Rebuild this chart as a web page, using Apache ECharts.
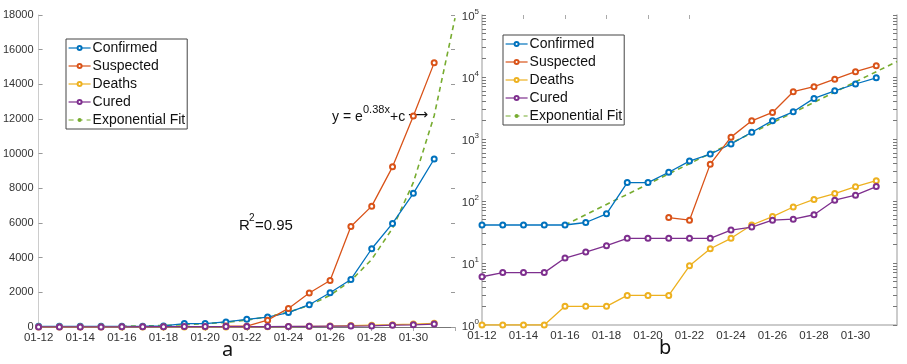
<!DOCTYPE html>
<html>
<head>
<meta charset="utf-8">
<script src="https://cdn.jsdelivr.net/npm/echarts@6/dist/echarts.min.js"></script>
<style>
  html, body { margin: 0; padding: 0; background: #fff; }
  #chart { width: 907px; height: 364px; }
</style>
</head>
<body>
<div id="chart"></div>
<script>
// data (01-12 .. 02-01)
const days = ['01-12','01-13','01-14','01-15','01-16','01-17','01-18','01-19','01-20','01-21',
  '01-22','01-23','01-24','01-25','01-26','01-27','01-28','01-29','01-30','01-31','02-01']
const confirmed = [41,41,41,41,41,45,62,198,198,291,440,571,830,1287,1975,2744,4515,5974,7711,9692]
const suspected = [null,null,null,null,null,null,null,null,null,54,49,393,1072,1965,2684,5794,6973,9239,12167,15238]
const deaths = [1,1,1,1,2,2,2,3,3,3,9,17,25,41,56,80,106,132,170,213]
const cured = [6,7,7,7,12,15,19,25,25,25,25,25,34,38,49,51,60,103,124,171]
const expFit = [null,null,null,null,41,60,88,128,187,274,400,585,855,1250,1827,2670,3900,5700,8340,12190,17820]
const logLabels = [1,10,100,1000,10000,100000]
const logTicks = [1,2,3,4,5,6,7,8,9,10,20,30,40,50,60,70,80,90,100,200,300,400,500,600,700,800,900,
  1000,2000,3000,4000,5000,6000,7000,8000,9000,10000,20000,30000,40000,50000,60000,70000,80000,90000,100000]

const names = ['Confirmed','Suspected','Deaths','Cured','Exponential Fit']
const colors = ['#0072BD','#D95319','#EDB120','#7E2F8E','#77AC30']
const seriesData = [confirmed, suspected, deaths, cured, expFit]

const FONT = 'Liberation Sans, Arial, sans-serif'
const chart = echarts.init(document.getElementById('chart'), null, {renderer: 'canvas'})

function makeSeries(gi) {
  return seriesData.map((d, i) => {
    const fit = i === 4
    return {
      name: names[i],
      type: 'line',
      xAxisIndex: gi * 2,
      yAxisIndex: gi * 2,
      data: d,
      color: colors[i],
      symbol: fit ? 'none' : 'emptyCircle',
      symbolSize: 5,
      showSymbol: !fit,
      lineStyle: {width: fit ? 1.6 : 1.3, type: fit ? [5, 4] : 'solid'},
      itemStyle: {borderWidth: 1.3},
      z: fit ? 1 : 2,
      animation: false
    }
  })
}

const labelEvery2 = (i) => i % 2 === 0 && i < 20

function legendAt(left, top) {
  return {
    left: left, top: top,
    orient: 'vertical',
    data: names,
    itemWidth: 22, itemHeight: 5, itemGap: 4,
    borderColor: '#444', borderWidth: 1,
    padding: [2, 2, 2, 2],
    lineStyle: {width: 1.2},
    itemStyle: {borderWidth: 1},
    textStyle: {fontFamily: FONT, fontSize: 14, color: '#111', padding: [0, 0, 0, -3]},
    selectedMode: false
  }
}

function txt(left, top, text, size, font) {
  return {type: 'text', left: left, top: top, style: {text: text, fontFamily: font || FONT, fontSize: size, fill: '#111'}}
}

chart.setOption({
  animation: false,
  grid: [
    {left: 33, top: 15, width: 422, height: 312},
    {left: 482, top: 15, width: 415, height: 310}
  ],
  legend: [legendAt(66, 39), legendAt(503, 35)],
  xAxis: [
    {
      gridIndex: 0, type: 'category', data: days, boundaryGap: false,
      axisLine: {lineStyle: {color: '#bbb'}},
      axisTick: {show: false},
      axisLabel: {interval: labelEvery2, fontFamily: FONT, fontSize: 11.5, color: '#333', margin: 5}
    },
    {
      gridIndex: 0, type: 'category', data: days, boundaryGap: false, position: 'top',
      axisLine: {lineStyle: {color: '#777'}},
      axisTick: {inside: true, length: 4, interval: (i) => i % 2 === 0 && i > 0, lineStyle: {color: '#aaa'}},
      axisLabel: {show: false}
    },
    {
      gridIndex: 1, type: 'category', data: days, boundaryGap: false,
      axisLine: {lineStyle: {color: '#bbb', width: 1.5}},
      axisTick: {show: false},
      axisLabel: {interval: labelEvery2, fontFamily: FONT, fontSize: 11.5, color: '#333', margin: 5}
    },
    {
      gridIndex: 1, type: 'category', data: days, boundaryGap: false, position: 'top',
      axisLine: {show: false},
      axisTick: {inside: true, length: 4, interval: (i) => i % 2 === 0 && i > 0 && i <= 10, lineStyle: {color: '#aaa'}},
      axisLabel: {show: false}
    }
  ],
  yAxis: [
    {
      gridIndex: 0, type: 'value', min: 0, max: 18000, interval: 2000,
      splitLine: {show: false},
      axisLine: {show: true, lineStyle: {color: '#ccc'}},
      axisTick: {show: true, inside: true, length: 4, lineStyle: {color: '#999'}},
      axisLabel: {fontFamily: FONT, fontSize: 11, color: '#333', margin: 5, formatter: (v) => String(v)}
    },
    {
      gridIndex: 0, type: 'value', min: 0, max: 18000, interval: 2000, position: 'right',
      splitLine: {show: false},
      axisLine: {show: false},
      axisTick: {show: true, inside: true, length: 4, lineStyle: {color: '#999'}},
      axisLabel: {show: false}
    },
    {
      gridIndex: 1, type: 'log', logBase: 10, min: 1, max: 100000,
      splitLine: {show: false},
      axisLine: {show: true, lineStyle: {color: '#bbb', width: 1.5}},
      axisTick: {show: true, inside: true, length: 4, customValues: logTicks, lineStyle: {color: '#777'}},
      axisLabel: {
        customValues: logLabels, margin: 3,
        formatter: (v) => '{b|10}{e|' + Math.round(Math.log10(v)) + '}',
        rich: {
          b: {fontFamily: FONT, fontSize: 11.5, color: '#333', padding: [4, 0, 0, 0]},
          e: {fontFamily: FONT, fontSize: 8, color: '#333', padding: [0, 0, 6, 0]}
        }
      }
    },
    {
      gridIndex: 1, type: 'log', logBase: 10, min: 1, max: 100000, position: 'right',
      splitLine: {show: false},
      axisLine: {show: true, lineStyle: {color: '#bbb', width: 1.5}},
      axisTick: {show: true, inside: true, length: 4, customValues: logTicks, lineStyle: {color: '#777'}},
      axisLabel: {show: false}
    }
  ],
  series: [...makeSeries(0), ...makeSeries(1)],
  graphic: [
    txt(332, 110, 'y = e', 14),
    txt(363, 104, '0.38x', 11),
    txt(390, 110, '+c', 14),
    txt(408, 108, '⟶', 14, 'DejaVu Sans'),
    txt(239, 218, 'R', 15),
    txt(249, 213, '2', 10),
    txt(255, 218, '=0.95', 15),
    txt(222, 340, 'a', 20, 'Noto Sans'),
    txt(659, 338, 'b', 20, 'Noto Sans')
  ]
})
</script>
</body>
</html>
